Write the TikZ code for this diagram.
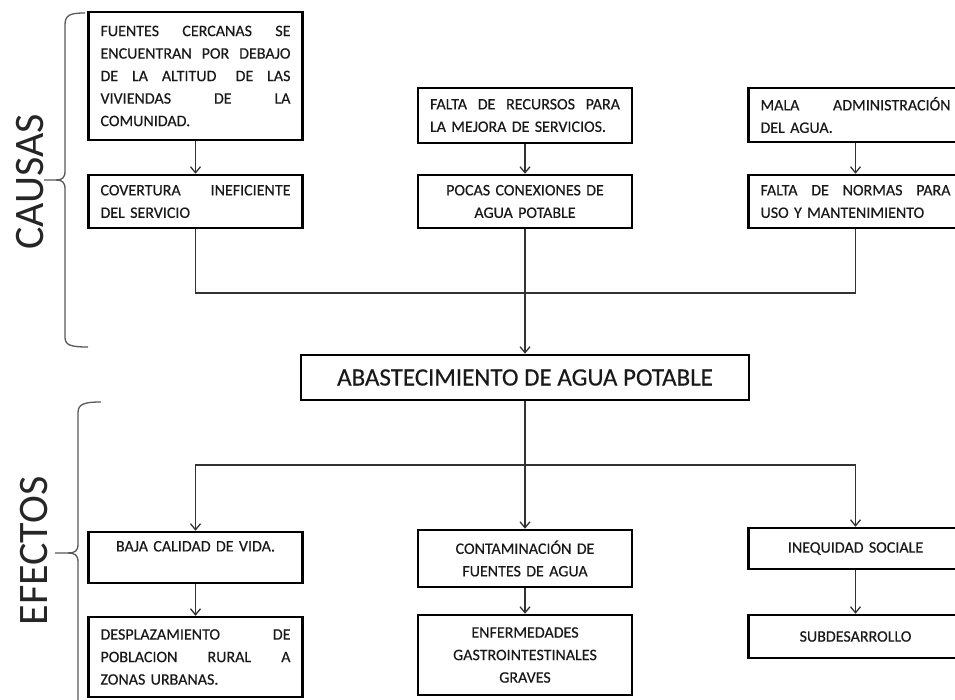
\documentclass[tikz,border=0pt]{standalone}
\usepackage{fontspec}
\setmainfont{Carlito}
\newfontfamily\boxfont{Carlito}[FakeBold=0.35]
\usetikzlibrary{arrows.meta}
\newcommand\jl[1]{\leavevmode\hbox to 190pt{#1}}
\tikzset{
  cbox/.style={draw=black, line width=2.5pt, fill=white, text width=190pt, inner xsep=12pt, inner ysep=2pt,
    font=\boxfont\fontsize{16}{22.5}\selectfont, align=left, text=black!90},
  cboxc/.style={cbox, align=center},
  conn/.style={draw=black!80, line width=1.3pt},
  arr/.style={conn, -{Straight Barb[length=6pt,width=10pt,line width=1.3pt]}},
  brace/.style={draw=black!65, line width=1.3pt},
  side/.style={font=\fontsize{42}{42}\selectfont, rotate=90, text=black!85, inner sep=0pt}
}
\begin{document}
\begin{tikzpicture}[x=1pt,y=-1pt]
\useasboundingbox (0,0) rectangle (955,700);
\clip (0,0) rectangle (955,700);
\fill[white] (0,0) rectangle (955,700);

% causes
\node[cbox, minimum height=128pt] (A) at (195.5,76)
  {\jl{FUENTES\hfill CERCANAS\hfill SE}\\\jl{ENCUENTRAN\hfill POR\hfill DEBAJO}\\\jl{DE\hfill LA\hfill ALTITUD\hfill\ DE\hfill LAS}\\\jl{VIVIENDAS\hfill DE\hfill LA}\\COMUNIDAD.};
\node[cbox, minimum height=53pt] (A2) at (195.5,201.5)
  {\jl{COVERTURA\hfill INEFICIENTE}\\DEL SERVICIO};
\node[cbox, minimum height=55pt] (B) at (525,115.5)
  {\jl{FALTA\hfill DE\hfill RECURSOS\hfill PARA}\\LA MEJORA DE SERVICIOS.};
\node[cboxc, minimum height=53pt] (B2) at (525,201.5)
  {POCAS CONEXIONES DE\\AGUA POTABLE};
\node[cbox, minimum height=54pt] (C) at (855.5,115)
  {\jl{MALA\hfill ADMINISTRACIÓN}\\DEL AGUA.};
\node[cbox, minimum height=53pt] (C2) at (855.5,201.5)
  {\jl{FALTA\hfill DE\hfill NORMAS\hfill PARA}\\USO Y MANTENIMIENTO};

% central problem
\node[draw=black, line width=2.6pt, minimum width=448pt, minimum height=45pt, inner sep=0pt,
  font=\boxfont\fontsize{25}{25}\selectfont, text=black!90] (P) at (525,377.5) {ABASTECIMIENTO DE AGUA POTABLE};

% effects
\node[cboxc, minimum height=51pt] (D) at (195.5,557.5)
  {BAJA CALIDAD DE VIDA.\\\mbox{}};
\node[cbox, minimum height=80pt] (D2) at (195.5,657)
  {\jl{DESPLAZAMIENTO\hfill DE}\\\jl{POBLACION\hfill RURAL\hfill A}\\ZONAS URBANAS.};
\node[cboxc, minimum height=57pt] (E) at (525,558.5)
  {CONTAMINACIÓN DE\\FUENTES DE AGUA};
\node[cboxc, minimum height=80pt] (E2) at (525,655)
  {ENFERMEDADES\\GASTROINTESTINALES\\GRAVES};
\node[cboxc, minimum height=41pt] (F) at (855.5,548.5)
  {INEQUIDAD SOCIALE};
\node[cboxc, minimum height=43pt] (F2) at (855.5,636.5)
  {SUBDESARROLLO};

% connectors: causes
\draw[arr] (A) -- (A2);
\draw[arr] (B) -- (B2);
\draw[arr] (C) -- (C2);
\coordinate (j1) at (525,293);
\draw[conn] (A2.south) |- (j1) -| (C2.south);
\draw[arr] (B2.south) -- (P.north);

% connectors: effects
\coordinate (j2) at (525,465);
\draw[conn] (P.south) -- (j2);
\draw[arr] (j2) -| (D.north);
\draw[arr] (j2) -| (F.north);
\draw[arr] (j2) -- (E.north);
\draw[arr] (D) -- (D2);
\draw[arr] (E) -- (E2);
\draw[arr] (F) -- (F2);

% side labels and braces
\node[side] (causas) at (30,182) {CAUSAS};
\node[side] (efectos) at (34,551) {EFECTOS};
\coordinate (ct) at (85,13);
\coordinate (cm) at (44,180);
\coordinate (cb) at (88,347);
\draw[brace] (ct) .. controls (70,13) and (65,15) .. (65,25) -- (65,171)
  .. controls (65,178) and (62,180) .. (56,180) -- (cm);
\draw[brace] (56,180) .. controls (62,180) and (65,182) .. (65,189) -- (65,337)
  .. controls (65,345) and (70,347) .. (cb);
\coordinate (et) at (101,402);
\coordinate (em) at (55,553);
\coordinate (eb) at (78,710);
\draw[brace] (et) .. controls (84,402) and (78,404) .. (78,413) -- (78,544)
  .. controls (78,551) and (75,553) .. (68,553) -- (em);
\draw[brace] (68,553) .. controls (75,553) and (78,555) .. (78,562) -- (eb);
\end{tikzpicture}
\end{document}
